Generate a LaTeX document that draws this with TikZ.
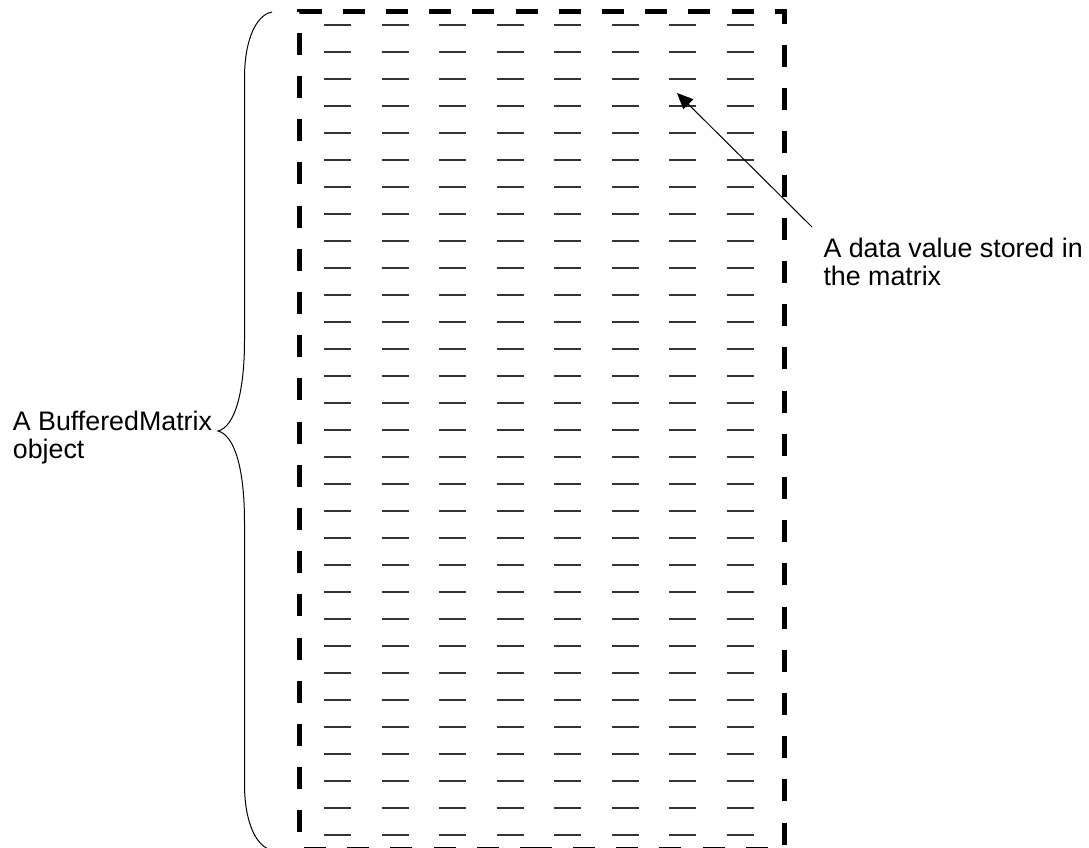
\documentclass[tikz,border=0pt]{standalone}
\usepackage{fontspec}
\setmainfont{Liberation Sans}
\usetikzlibrary{arrows.meta}
\begin{document}
\begin{tikzpicture}[x=1pt,y=-1pt,
  lbl/.style={anchor=base west, inner sep=0pt, font=\fontsize{26.8}{30}\selectfont},
  boxline/.style={line width=5pt, dash pattern=on 22pt off 21.2pt},
  cellline/.style={line width=1.3pt, black!80},
  bracel/.style={line width=1pt},
  pointer/.style={line width=1pt, -{Triangle[length=16pt,width=14pt]}}]
\useasboundingbox (0,0) rectangle (1089,847);
% matrix outline
\draw[boxline] (542,849) -- (299.5,849) -- (299.5,11.5) -- (784.5,11.5) -- (784.5,849) -- cycle;
% stored values
\foreach \r in {0,...,30}{
  \foreach \c in {0,...,7}{
    \draw[cellline] ({324+57.5*\c},{25+27*\r}) -- ++(27,0);
  }
}
% labels
\node[lbl] (bm1) at (12.7,430.7) {A BufferedMatrix};
\node[lbl] (bm2) at (12.7,458.5) {object};
\node[lbl] (dv1) at (823.3,257.3) {A data value stored in};
\node[lbl] (dv2) at (823.3,285.5) {the matrix};
% brace
\coordinate (bmtip) at (218,431);
\draw[bracel] (272,12) .. controls (256,15) and (244.5,40) .. (244.5,78)
  -- (244.5,340) .. controls (244.5,395) and (234,427) .. (bmtip)
  .. controls (234,435) and (244.5,467) .. (244.5,522)
  -- (244.5,784) .. controls (244.5,822) and (256,847) .. (272,850);
% pointer
\coordinate (cell) at (677,93);
\coordinate (tail) at (812,227);
\draw[pointer] (tail) -- (cell);
\end{tikzpicture}
\end{document}
